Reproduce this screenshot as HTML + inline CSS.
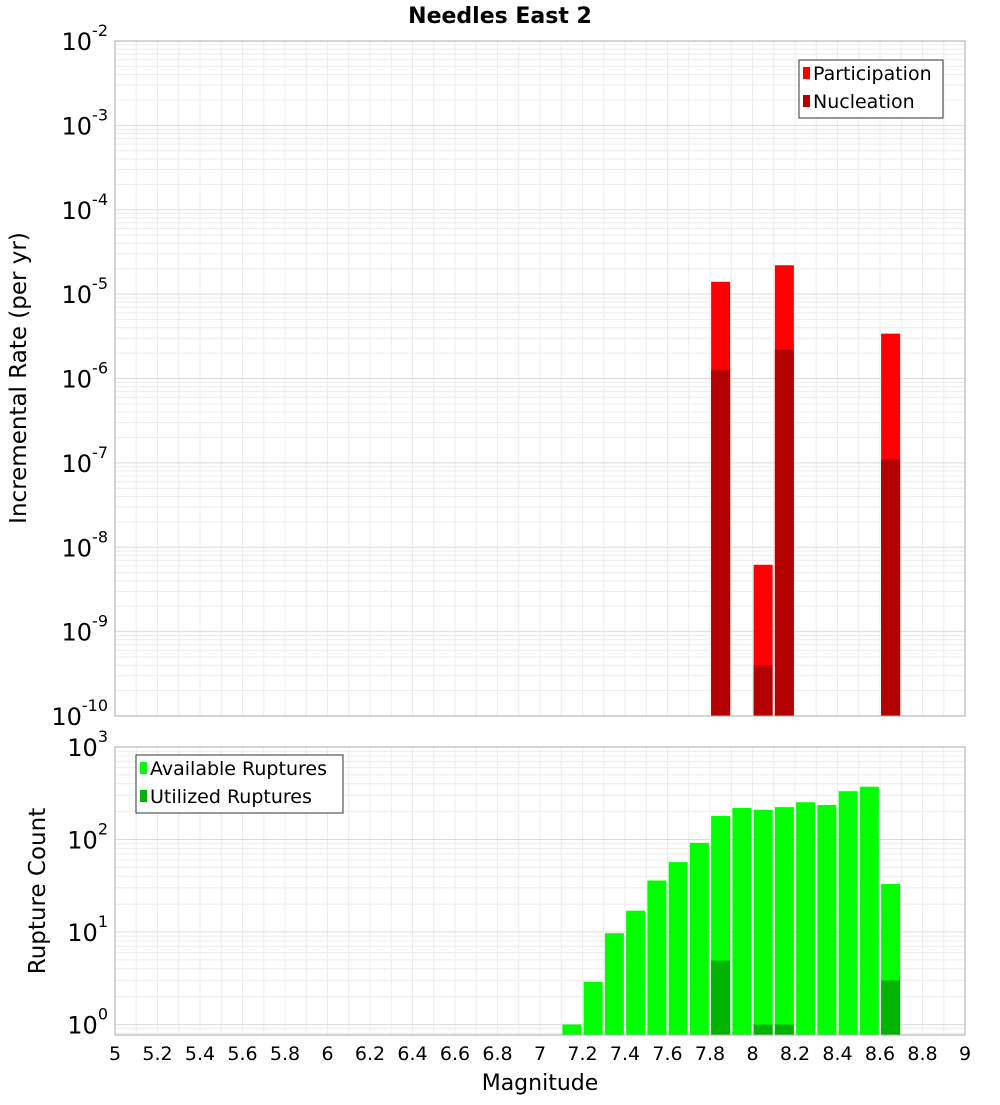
<!DOCTYPE html>
<html><head><meta charset="utf-8"><style>
body{margin:0;background:#fff;font-family:"Liberation Sans","DejaVu Sans",sans-serif}
svg text{font-family:"DejaVu Sans","Liberation Sans",sans-serif}
</style></head><body>
<svg id="c" width="1000" height="1100" xmlns="http://www.w3.org/2000/svg"></svg>
<script>
const binCenters=[7.15,7.25,7.35,7.45,7.55,7.65,7.75,7.85,7.95,8.05,8.15,8.25,8.35,8.45,8.55,8.65];
const availableCounts=[1.0,2.9,9.7,17,36,57,92,180,219,209,224,253,236,333,372,33];
const utilizedCounts=[0,0,0,0,0,0,0,4.9,0,1,1,0,0,0,0,3];
const rateMags=[7.85,8.05,8.15,8.65];
const participationRates=[1.4e-5,6.2e-9,2.2e-5,3.4e-6];
const nucleationRates=[1.26e-6,4e-10,2.2e-6,1.1e-7];
const xTicks=[5,5.2,5.4,5.6,5.8,6,6.2,6.4,6.6,6.8,7,7.2,7.4,7.6,7.8,8,8.2,8.4,8.6,8.8,9];
const topExps=[-10,-9,-8,-7,-6,-5,-4,-3,-2];
const botExps=[0,1,2,3];

const NS="http://www.w3.org/2000/svg",svg=document.getElementById('c');
function el(t,a,p){const e=document.createElementNS(NS,t);for(const k in a)e.setAttribute(k,a[k]);(p||svg).appendChild(e);return e;}
const X0=115,X1=965;
const x=m=>X0+(m-5)/4*(X1-X0);
const T0=41,T1=716; const yT=v=>T1-(Math.log10(v)+10)/8*(T1-T0);
const B0=747,B1=1035,Bdec=92.5,Bzero=1024.5; const yB=v=>Bzero-Math.log10(v)*Bdec;

function grid(top,bot,yf,e0,e1){
  for(let m=5;m<=9.001;m+=0.1){const l=el('line',{x1:x(m),x2:x(m),y1:top,y2:bot,stroke:'#ececec','stroke-width':1});}
  for(let e=e0;e<e1;e++)for(let k=1;k<10;k++){const y=yf(k*Math.pow(10,e));if(y<top||y>bot)continue;const l=el('line',{x1:X0,x2:X1,y1:y,y2:y,stroke:k==1?'#dcdcdc':'#ececec','stroke-width':1});}
}
grid(T0,T1,yT,-10,-2);
grid(B0,B1,yB,-1,3);

const bw=19;
participationRates.forEach((v,i)=>{const r=el('rect',{x:x(rateMags[i])-bw/2,y:yT(v),width:bw,height:T1-yT(v),fill:'#ff0000'});});
nucleationRates.forEach((v,i)=>{const r=el('rect',{x:x(rateMags[i])-bw/2,y:yT(v),width:bw,height:T1-yT(v),fill:'#b30000'});});
availableCounts.forEach((v,i)=>{if(v<=0)return;const r=el('rect',{x:x(binCenters[i])-bw/2,y:yB(v),width:bw,height:B1-yB(v),fill:'#00ff00'});});
utilizedCounts.forEach((v,i)=>{if(v<=0)return;const r=el('rect',{x:x(binCenters[i])-bw/2,y:yB(v),width:bw,height:B1-yB(v),fill:'#00b300'});});

let f=el('rect',{x:X0,y:T0,width:X1-X0,height:T1-T0,fill:'none',stroke:'#aaa'});
f=el('rect',{x:X0,y:B0,width:X1-X0,height:B1-B0,fill:'none',stroke:'#aaa'});

function powLabel(e,y,name){const t=el('text',{x:108,y:y+9,'text-anchor':'end','font-size':24,fill:'#000'});
 t.appendChild(document.createTextNode('10'));const s=el('tspan',{dy:-14,'font-size':16},t);s.textContent=String(e);}
topExps.forEach(e=>powLabel(e,yT(Math.pow(10,e)),'y-tick-label'));
botExps.forEach(e=>powLabel(e,yB(Math.pow(10,e)),'bottom-y-tick-label'));
xTicks.forEach(m=>{const t=el('text',{x:x(m),y:1060,'text-anchor':'middle','font-size':19,fill:'#000'});t.textContent=String(m);});

function txt(s,a,name){const t=el('text',a);t.textContent=s;return t;}
txt('Needles East 2',{x:500,y:23,'text-anchor':'middle','font-size':22,'font-weight':'bold'},'chart-title');
txt('Magnitude',{x:540,y:1090,'text-anchor':'middle','font-size':22},'x-axis-title');
txt('Incremental Rate (per yr)',{x:26,y:378,'text-anchor':'middle','font-size':23,transform:'rotate(-90 26 378)'},'top-y-axis-title');
txt('Rupture Count',{x:45,y:891,'text-anchor':'middle','font-size':23,transform:'rotate(-90 45 891)'},'bottom-y-axis-title');

function legend(x0,y0,w,items,name){const g=el('g',{});
 el('rect',{x:x0,y:y0,width:w,height:58,fill:'#fff',stroke:'#333'},g);
 items.forEach((it,i)=>{const yy=y0+14+i*28;el('rect',{x:x0+4,y:yy-7,width:7,height:12,fill:it[1]},g);
  const t=el('text',{x:x0+14,y:yy+6,'font-size':19},g);t.textContent=it[0];});}
legend(799,60,144,[['Participation','#ff0000'],['Nucleation','#b30000']],'top-legend');
legend(136,755,207,[['Available Ruptures','#00ff00'],['Utilized Ruptures','#00b300']],'bottom-legend');
</script>
</body></html>
